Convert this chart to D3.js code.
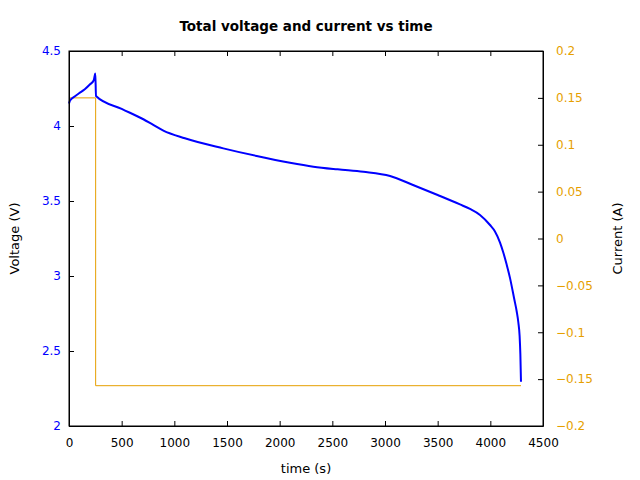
<!DOCTYPE html>
<html>
<head>
<meta charset="utf-8">
<script src="https://cdn.jsdelivr.net/npm/d3@7"></script>
<style>
  body { margin: 0; background: #fff; }
  svg { font-family: "DejaVu Sans", sans-serif; }
</style>
</head>
<body>
<svg id="chart" width="640" height="480"></svg>
<script>
// voltage trace
var timeV = [0, 10, 50, 95, 150, 200, 235, 250, 256, 500, 706, 800, 896, 1100,
  1465, 1782, 2098, 2320, 2550, 2795, 3048, 3266, 3500, 3712, 3807, 3902, 3997,
  4044, 4092, 4123, 4155, 4187, 4228, 4250, 4266, 4278, 4285, 4291];
var voltage = [4.15, 4.17, 4.195, 4.218, 4.245, 4.278, 4.305, 4.35, 4.2, 4.114,
  4.045, 4.007, 3.969, 3.918, 3.851, 3.80, 3.755, 3.729, 3.711, 3.695, 3.667,
  3.607, 3.54, 3.477, 3.447, 3.407, 3.34, 3.297, 3.223, 3.157, 3.076, 2.986,
  2.843, 2.765, 2.69, 2.60, 2.48, 2.295];

// current trace
var timeI = [0, 253, 253, 4291];
var current = [0.15, 0.15, -0.157, -0.157];

var xTicks = [0, 500, 1000, 1500, 2000, 2500, 3000, 3500, 4000, 4500];
var vTicks = [2, 2.5, 3, 3.5, 4, 4.5];
var iTicks = [-0.2, -0.15, -0.1, -0.05, 0, 0.05, 0.1, 0.15, 0.2];

var margin = { top: 51, right: 97, bottom: 54, left: 69 },
  width = 640 - margin.left - margin.right,
  height = 480 - margin.top - margin.bottom;

var blue = "#0000ff", orange = "#e69f00";

var svg = d3.select("#chart");
var g = svg.append("g")
  .attr("transform", `translate(${margin.left}, ${margin.top})`);

var x_scale = d3.scaleLinear().domain([0, 4500]).range([0, width]);
var y_scale = d3.scaleLinear().domain([2, 4.5]).range([height, 0]);
var y2_scale = d3.scaleLinear().domain([-0.2, 0.2]).range([height, 0]);

// current line
var iLine = d3.line()
  .x(function(d, i) { return x_scale(timeI[i]); })
  .y(function(d) { return y2_scale(d); });
g.append("path")
  .datum(current)
  .attr("d", iLine)
  .attr("fill", "none")
  .attr("stroke", orange)
  .attr("stroke-width", 1);

// voltage line
var vLine = d3.line()
  .x(function(d, i) { return x_scale(timeV[i]); })
  .y(function(d) { return y_scale(d); })
  .curve(d3.curveMonotoneX);
g.append("path")
  .datum(voltage)
  .attr("d", vLine)
  .attr("fill", "none")
  .attr("stroke", blue)
  .attr("stroke-width", 2);

// axes, ticks pointing inward
var fmt = d3.format("");
g.append("g")
  .attr("transform", `translate(0, ${height})`)
  .call(d3.axisBottom(x_scale).tickValues(xTicks).tickFormat(fmt)
    .tickSizeInner(-5).tickSizeOuter(0).tickPadding(12));
g.append("g")
  .call(d3.axisTop(x_scale).tickValues(xTicks).tickFormat("")
    .tickSizeInner(-5).tickSizeOuter(0));
g.append("g")
  .attr("class", "y_axis")
  .call(d3.axisLeft(y_scale).tickValues(vTicks).tickFormat(fmt)
    .tickSizeInner(-5).tickSizeOuter(0).tickPadding(8));
g.append("g")
  .attr("class", "y2_axis")
  .attr("transform", `translate(${width}, 0)`)
  .call(d3.axisRight(y2_scale).tickValues(iTicks).tickFormat(fmt)
    .tickSizeInner(-5).tickSizeOuter(0).tickPadding(13));

g.selectAll(".domain").attr("stroke", "#000").attr("stroke-width", 1);
g.selectAll(".tick line").attr("stroke", "#000");
g.selectAll(".tick text").attr("font-size", 12).attr("font-family", "DejaVu Sans").attr("fill", "#000");
g.selectAll(".y_axis .tick text").attr("fill", blue);
g.selectAll(".y2_axis .tick text").attr("fill", orange);

// frame
g.append("rect")
  .attr("width", width).attr("height", height)
  .attr("fill", "none").attr("stroke", "#000");

// labels
svg.append("text")
  .attr("x", margin.left + width / 2)
  .attr("y", 31)
  .attr("text-anchor", "middle")
  .style("font-size", "13.5px")
  .style("font-weight", "bold")
  .text("Total voltage and current vs time");

svg.append("text")
  .attr("x", margin.left + width / 2)
  .attr("y", 473)
  .attr("text-anchor", "middle")
  .style("font-size", "13px")
  .text("time (s)");

svg.append("text")
  .attr("transform", `translate(19, ${margin.top + height / 2}) rotate(-90)`)
  .attr("text-anchor", "middle")
  .style("font-size", "13px")
  .text("Voltage (V)");

svg.append("text")
  .attr("transform", `translate(622, ${margin.top + height / 2}) rotate(-90)`)
  .attr("text-anchor", "middle")
  .style("font-size", "13px")
  .text("Current (A)");
</script>
</body>
</html>
